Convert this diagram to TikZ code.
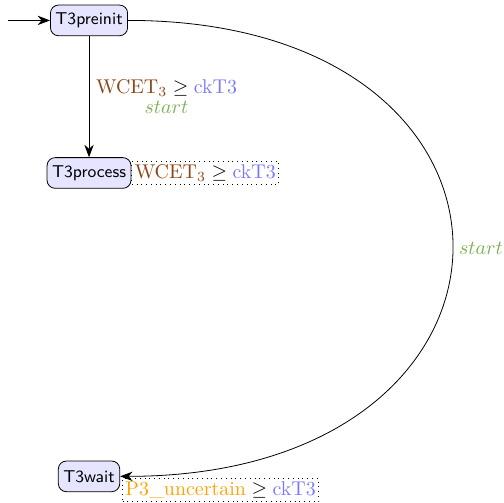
\documentclass[tikz,border=0pt]{standalone}
\usepackage{amsmath}
\usepackage{amssymb}
\usetikzlibrary{arrows.meta}

\definecolor{paramcolor}{rgb}{0.55,0.27,0.08}
\definecolor{clockcolor}{rgb}{0.47,0.47,1.0}
\definecolor{uncertaincolor}{rgb}{1.0,0.63,0.0}
\definecolor{updatecolor}{rgb}{0.49,0.69,0.33}

\begin{document}
\begin{tikzpicture}[
  >={Stealth[length=2.2mm]},
  location/.style={draw,rounded corners=4pt,fill=blue!10,font=\sffamily\fontsize{8.6}{10}\selectfont,inner sep=2.5pt,minimum height=0.54cm},
  invariant/.style={draw,dotted,inner sep=1.5pt}
]
\useasboundingbox (0,0) rectangle (8.87,-8.87);

%--------------------
% locations
%--------------------
\node[location] (preinit) at (1.57,-0.36) {T3preinit};
\node[location] (process) at (1.57,-3.05) {T3process};
\node[location] (wait) at (1.57,-8.40) {T3wait};

% invariants
\node[invariant,anchor=west] (invprocess) at (process.east)
  {$\textcolor{paramcolor}{\mathrm{WCET}_3} \geq \textcolor{clockcolor}{\mathrm{ckT3}}$};
\node[invariant,anchor=north west] (invwait) at ([xshift=1pt,yshift=-1pt]wait.east)
  {$\textcolor{uncertaincolor}{\textrm{P3\_uncertain}} \geq \textcolor{clockcolor}{\mathrm{ckT3}}$};

%--------------------
% transitions
%--------------------
\coordinate (init) at (0.14,-0.36);
\draw[->] (init) -- (preinit);

\draw[->] (preinit) -- (process)
  node[midway,right,align=center]
  {$\textcolor{paramcolor}{\mathrm{WCET}_3} \geq \textcolor{clockcolor}{\mathrm{ckT3}}$\\[-2pt]
   $\textcolor{updatecolor}{start}$};

\draw[->] (preinit) to[out=0,in=0,looseness=2.45]
  node[midway,right] {$\textcolor{updatecolor}{start}$} (wait);

\end{tikzpicture}
\end{document}
